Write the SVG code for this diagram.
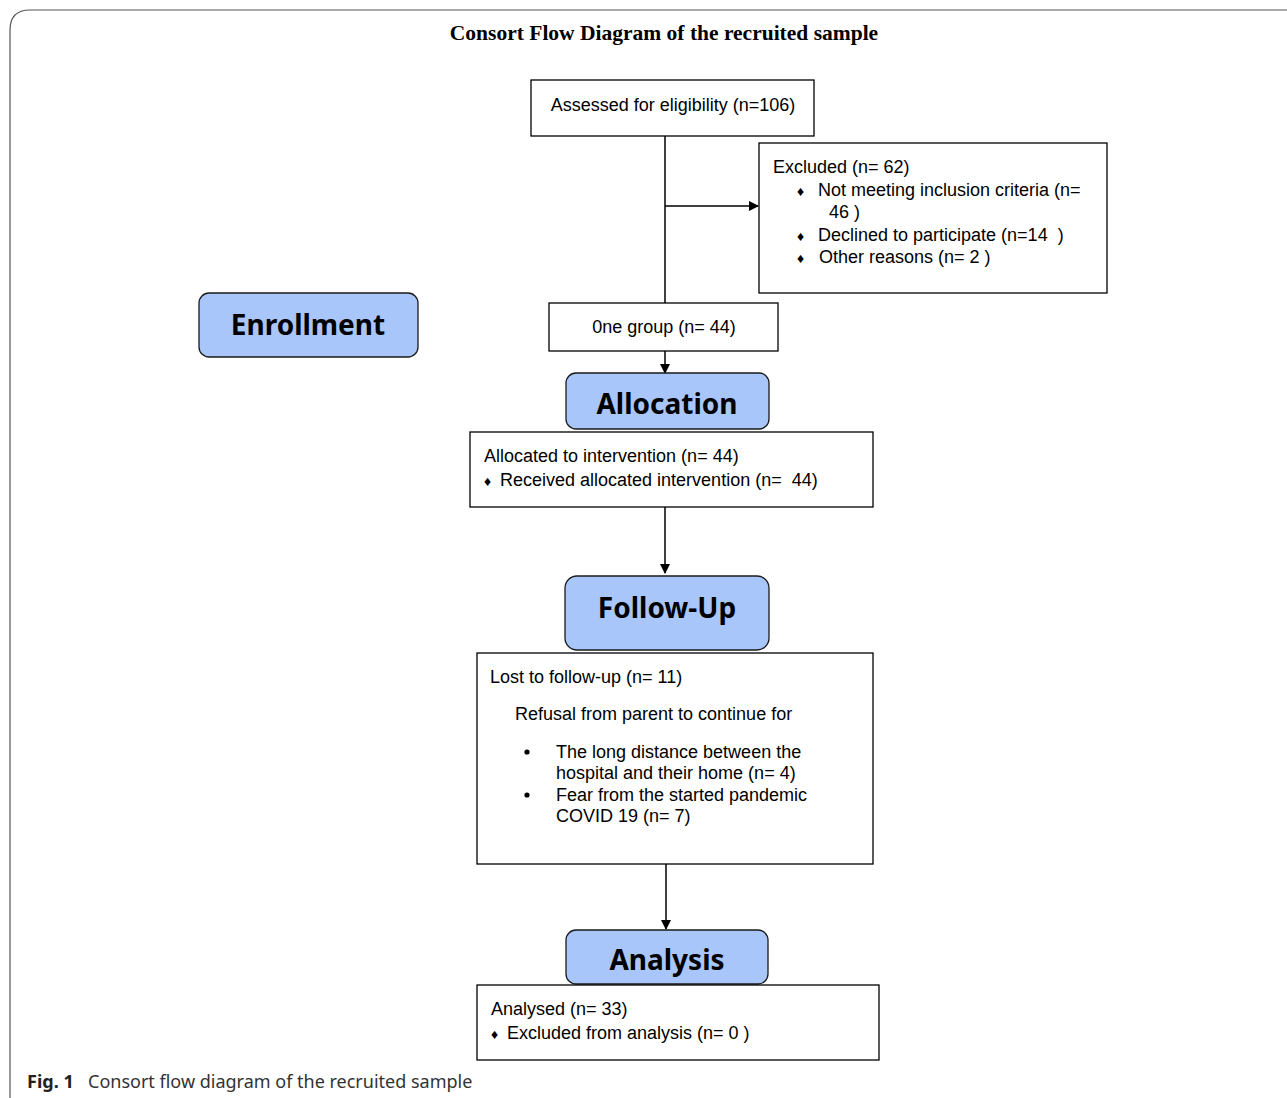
<svg xmlns="http://www.w3.org/2000/svg" width="1287" height="1098" viewBox="0 0 1287 1098">
<style>
.box{fill:#fff;stroke:#000;stroke-width:1.3}
.stage{fill:#a9c6fb;stroke:#1a1a1a;stroke-width:1.3}
.t{font-family:"Liberation Sans",Arial,sans-serif;font-size:18px;fill:#000;white-space:pre}
.b{font-family:"Liberation Sans",Arial,sans-serif;font-size:14px;fill:#000}
.h{font-family:"Noto Sans","Open Sans",sans-serif;font-weight:bold;font-size:28px;fill:#000;text-anchor:middle}
.c{stroke:#000;stroke-width:1.5;fill:none}
</style>
<defs>
<marker id="ah" markerWidth="10" markerHeight="10" refX="9" refY="5" orient="auto" markerUnits="userSpaceOnUse">
<path d="M0,0 L10,5 L0,10 Z" fill="#000"/>
</marker>
</defs>
<rect width="1287" height="1098" fill="#fff"/>
<path d="M10,1098 L10,30 Q10,10 30,10 L1287,10" fill="none" stroke="#555" stroke-width="1.2"/>
<text x="664" y="40" text-anchor="middle" font-family="Liberation Serif,serif" font-weight="bold" font-size="21.5">Consort Flow Diagram of the recruited sample</text>

<g id="connectors">
<line class="c" x1="665" y1="136" x2="665" y2="303"/>
<line class="c" x1="665" y1="206" x2="758" y2="206" marker-end="url(#ah)"/>
<line class="c" x1="665" y1="351" x2="665" y2="373" marker-end="url(#ah)"/>
<line class="c" x1="665" y1="507" x2="665" y2="573" marker-end="url(#ah)"/>
<line class="c" x1="666" y1="864" x2="666" y2="929" marker-end="url(#ah)"/>
</g>

<g id="assessed">
<rect class="box" x="531" y="80" width="283" height="56"/>
<text class="t" x="673" y="111" text-anchor="middle">Assessed for eligibility (n=106)</text>
</g>

<g id="excluded">
<rect class="box" x="759" y="143" width="348" height="150"/>
<text class="t" x="773" y="173">Excluded (n= 62)</text>
<text class="b" x="797" y="196">♦</text>
<text class="t" x="818" y="196">Not meeting inclusion criteria (n=</text>
<text class="t" x="829" y="218">46 )</text>
<text class="b" x="797" y="241">♦</text>
<text class="t" x="818" y="241">Declined to participate (n=14  )</text>
<text class="b" x="797" y="263">♦</text>
<text class="t" x="819" y="263">Other reasons (n= 2 )</text>
</g>

<g id="enrollment">
<rect class="stage" x="199" y="293" width="219" height="64" rx="10"/>
<text class="h" x="308" y="335">Enrollment</text>
</g>

<g id="onegroup">
<rect class="box" x="549" y="303" width="229" height="48"/>
<text class="t" x="664" y="333" text-anchor="middle">0ne group (n= 44)</text>
</g>

<g id="allocation">
<rect class="stage" x="566" y="373" width="203" height="56" rx="10"/>
<text class="h" x="667" y="414">Allocation</text>
</g>

<g id="allocated">
<rect class="box" x="470" y="432" width="403" height="75"/>
<text class="t" x="484" y="462">Allocated to intervention (n= 44)</text>
<text class="b" x="484" y="486">♦</text>
<text class="t" x="500" y="486">Received allocated intervention (n=  44)</text>
</g>

<g id="followup">
<rect class="stage" x="565" y="576" width="204" height="74" rx="12"/>
<text class="h" x="667" y="618">Follow-Up</text>
</g>

<g id="lost">
<rect class="box" x="477" y="653" width="396" height="211"/>
<text class="t" x="490" y="683">Lost to follow-up (n= 11)</text>
<text class="t" x="515" y="720">Refusal from parent to continue for</text>
<circle cx="527" cy="752" r="2.6" fill="#000"/>
<text class="t" x="556" y="758">The long distance between the</text>
<text class="t" x="556" y="779">hospital and their home (n= 4)</text>
<circle cx="527" cy="795" r="2.6" fill="#000"/>
<text class="t" x="556" y="801">Fear from the started pandemic</text>
<text class="t" x="556" y="822">COVID 19 (n= 7)</text>
</g>

<g id="analysis">
<rect class="stage" x="566" y="930" width="202" height="54" rx="10"/>
<text class="h" x="667" y="970">Analysis</text>
</g>

<g id="analysed">
<rect class="box" x="477" y="985" width="402" height="75"/>
<text class="t" x="491" y="1015">Analysed (n= 33)</text>
<text class="b" x="491" y="1039">♦</text>
<text class="t" x="507" y="1039">Excluded from analysis (n= 0 )</text>
</g>

<text x="27" y="1088" font-family="Noto Sans,Open Sans,sans-serif" font-size="18" fill="#222"><tspan font-weight="bold">Fig. 1</tspan><tspan x="88" fill="#333">Consort flow diagram of the recruited sample</tspan></text>
</svg>
